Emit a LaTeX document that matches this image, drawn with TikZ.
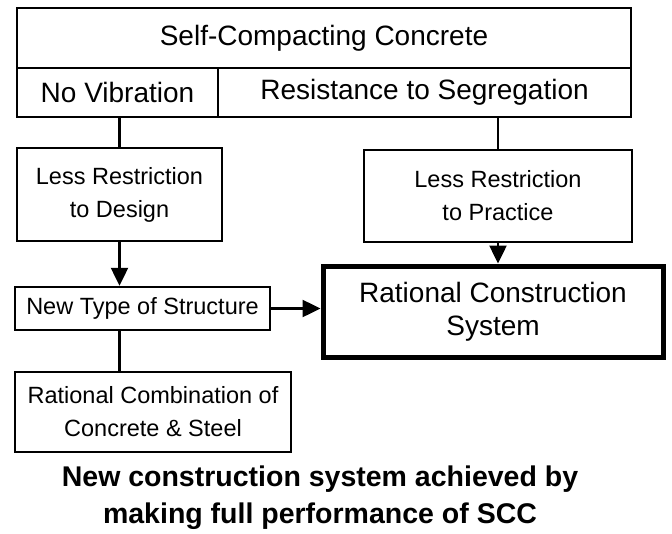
\documentclass[tikz,border=0pt]{standalone}
\usepackage{fontspec}
\setmainfont{Liberation Sans}
\usetikzlibrary{arrows.meta}
\begin{document}
\begin{tikzpicture}[x=1pt,y=-1pt,
  box/.style={draw, line width=2.5pt, inner sep=0pt, align=center,
    font=\fontsize{23.5}{33}\selectfont},
  bigtext/.style={font=\fontsize{28}{33}\selectfont},
  thickbox/.style={box, bigtext, line width=5pt},
  link/.style={line width=2.5pt},
  arrow/.style={link, -{Triangle[length=18pt,width=17pt]}},
  caption/.style={font=\bfseries\fontsize{28.5}{37}\selectfont, align=center}]
\useasboundingbox (0,0) rectangle (672,533);

% header: the concept and its two properties
\node[box, bigtext, minimum width=614pt, minimum height=60pt] (top) at (324,38) {Self-Compacting Concrete};
\node[box, bigtext, minimum width=201pt, minimum height=49pt] (nov) at (117.5,92.5) {No Vibration};
\node[box, bigtext, minimum width=413pt, minimum height=49pt] (res) at (424.5,92.5) {Resistance to Segregation};

% consequences
\node[box, minimum width=205pt, minimum height=93pt] (lrd) at (119.5,194.5) {Less Restriction\\to Design};
\node[box, minimum width=268pt, minimum height=92pt] (lrp) at (498,196) {Less Restriction\\to Practice};
\node[box, minimum width=255pt, minimum height=43pt] (nts) at (142.5,308.5) {New Type of Structure};
\node[box, minimum width=276pt, minimum height=80pt] (rcc) at (153,412) {Rational Combination of\\Concrete \& Steel};
\node[thickbox, minimum width=340pt, minimum height=91pt] (rcs) at (493,311.5) {Rational Construction\\System};

% connectors
\draw[link] (lrd.north) -- (lrd.north |- nov.south);
\draw[link] (lrp.north) -- (lrp.north |- res.south);
\draw[arrow] (lrd.south) -- (lrd.south |- nts.north);
\draw[arrow] (lrp.south) -- (lrp.south |- rcs.north);
\draw[link] (nts.south -| lrd.south) -- (rcc.north -| lrd.south);
\draw[arrow] (nts.east) -- (nts.east -| rcs.west);

% caption
\node[caption] (cap) at (320,498) {New construction system achieved by\\making full performance of SCC};
\end{tikzpicture}
\end{document}
